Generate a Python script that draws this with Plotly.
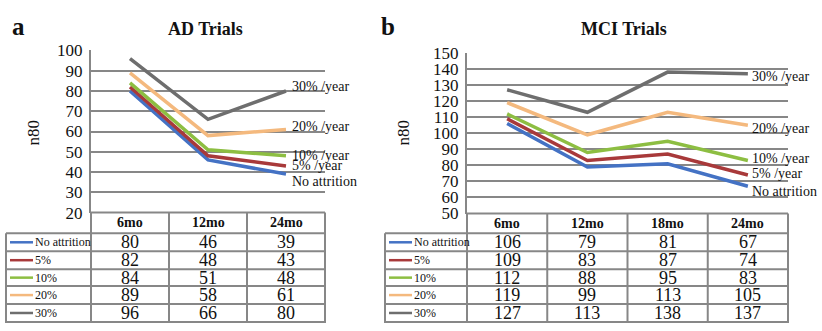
import plotly.graph_objects as go

W, H = 822, 331

series_names = ["No attrition", "5%", "10%", "20%", "30%"]
label_texts = ["No attrition", "5% /year", "10% /year", "20% /year", "30% /year"]
colors = ["#4472C4", "#A8393A", "#8DBE42", "#F4B97E", "#6E6E6E"]

ad_months = ["6mo", "12mo", "24mo"]
ad_values = [
    [80, 46, 39],
    [82, 48, 43],
    [84, 51, 48],
    [89, 58, 61],
    [96, 66, 80],
]

mci_months = ["6mo", "12mo", "18mo", "24mo"]
mci_values = [
    [106, 79, 81, 67],
    [109, 83, 87, 74],
    [112, 88, 95, 83],
    [119, 99, 113, 105],
    [127, 113, 138, 137],
]

ad_ticks = list(range(20, 101, 10))
mci_ticks = list(range(50, 151, 10))

SERIF = "Liberation Serif"
GRID = "#878787"
TXT = "#111111"


def px(x):
    return x / W


def py(y):
    return 1 - y / H


fig = go.Figure()

panels = [
    dict(xa="x", ya="y", xname="xaxis", yname="yaxis", months=ad_months, values=ad_values,
         left=91, right=325, top=44, bottom=216, rng=[20, 100], ticks=ad_ticks,
         tleft=6, title="AD Trials", title_x=205, letter="a", letter_x=18, n80_x=33,
         label_shift=[-7, 0, 0, 3, 5], label_xshift=5),
    dict(xa="x2", ya="y2", xname="xaxis2", yname="yaxis2", months=mci_months, values=mci_values,
         left=467, right=788, top=46.5, bottom=217, rng=[50, 150], ticks=mci_ticks,
         tleft=385, title="MCI Trials", title_x=624, letter="b", letter_x=388, n80_x=403,
         label_shift=[-5, 1, 2, -3, -3], label_xshift=3),
]

annotations = []
shapes = []

header_bottom = 238
row_lines = [238, 257, 276, 294, 313, 332]
row_centers = [247.5, 266.5, 285, 303.5, 322.5]

for p in panels:
    n = len(p["months"])
    for i, name in enumerate(series_names):
        fig.add_trace(go.Scatter(
            x=p["months"], y=p["values"][i], mode="lines", name=name,
            line=dict(color=colors[i], width=3.5), xaxis=p["xa"], yaxis=p["ya"],
            showlegend=False, hoverinfo="skip",
        ))
        annotations.append(dict(
            x=p["months"][-1], y=p["values"][i][-1], xref=p["xa"], yref=p["ya"],
            text=label_texts[i], showarrow=False, xanchor="left", yanchor="middle",
            xshift=p["label_xshift"], yshift=p["label_shift"][i], borderpad=0,
            font=dict(family=SERIF, size=14, color=TXT),
        ))

    fig.layout[p["xname"]] = dict(
        domain=[px(p["left"]), px(p["right"])], type="category", range=[-0.5, n - 0.5],
        showgrid=False, showticklabels=False, showline=False, zeroline=False,
        anchor=p["ya"], fixedrange=True,
    )
    fig.layout[p["yname"]] = dict(
        domain=[py(p["bottom"]), py(p["top"])], range=p["rng"], tickvals=p["ticks"],
        showgrid=True, gridcolor=GRID, gridwidth=2, showline=True, linecolor=GRID,
        linewidth=2, zeroline=False, ticks="", anchor=p["xa"], ticklabelstandoff=3,
        tickfont=dict(family=SERIF, size=17, color=TXT), fixedrange=True,
    )

    annotations.append(dict(x=px(p["title_x"]), y=py(21), xref="paper", yref="paper",
                            xanchor="center", yanchor="middle",
                            text="<b>%s</b>" % p["title"], showarrow=False,
                            font=dict(family=SERIF, size=18, color=TXT)))
    annotations.append(dict(x=px(p["letter_x"]), y=py(19), xref="paper", yref="paper",
                            xanchor="center", yanchor="middle",
                            text="<b>%s</b>" % p["letter"], showarrow=False,
                            font=dict(family=SERIF, size=25, color=TXT)))
    annotations.append(dict(x=px(p["n80_x"]), y=py(131), xref="paper", yref="paper",
                            xanchor="center", yanchor="middle",
                            text="n80", textangle=-90, showarrow=False,
                            font=dict(family=SERIF, size=17, color=TXT)))

    L, R, TL = p["left"], p["right"], p["tleft"]
    colw = (R - L) / n
    line = dict(color=GRID, width=2)
    shapes.append(dict(type="line", xref="paper", yref="paper", x0=px(L), x1=px(R),
                       y0=py(p["bottom"]), y1=py(p["bottom"]), line=line))
    for yl in row_lines:
        shapes.append(dict(type="line", xref="paper", yref="paper", x0=px(TL), x1=px(R),
                           y0=py(yl), y1=py(yl), line=line))
    shapes.append(dict(type="line", xref="paper", yref="paper", x0=px(TL), x1=px(TL),
                       y0=py(header_bottom), y1=py(H + 2), line=line))
    for k in range(n + 1):
        xx = L + k * colw
        shapes.append(dict(type="line", xref="paper", yref="paper", x0=px(xx), x1=px(xx),
                           y0=py(p["bottom"]), y1=py(H + 2), line=line))

    for m in p["months"]:
        annotations.append(dict(x=m, y=py((p["bottom"] + header_bottom) / 2), xref=p["xa"],
                                yref="paper", xanchor="center", yanchor="middle",
                                text="<b>%s</b>" % m, showarrow=False,
                                font=dict(family=SERIF, size=14, color=TXT)))
    for i, name in enumerate(series_names):
        yc = row_centers[i]
        shapes.append(dict(type="line", xref="paper", yref="paper", x0=px(TL + 4),
                           x1=px(TL + 27), y0=py(yc), y1=py(yc),
                           line=dict(color=colors[i], width=2.5)))
        annotations.append(dict(x=px(TL + 28), y=py(yc), xref="paper", yref="paper",
                                text=name, showarrow=False, xanchor="left", yanchor="middle",
                                borderpad=0,
                                font=dict(family=SERIF, size=12, color=TXT)))
        for j, m in enumerate(p["months"]):
            annotations.append(dict(x=m, y=py(yc), xref=p["xa"], yref="paper",
                                    xanchor="center", yanchor="middle",
                                    text=str(p["values"][i][j]), showarrow=False,
                                    font=dict(family=SERIF, size=18, color=TXT)))

fig.update_layout(
    width=W, height=H, margin=dict(l=0, r=0, t=0, b=0),
    paper_bgcolor="white", plot_bgcolor="white",
    annotations=annotations, shapes=shapes, showlegend=False,
)

fig.write_html(
    "out.html",
    config={"displayModeBar": False, "responsive": False},
    post_script="document.body.style.margin='0';",
)
